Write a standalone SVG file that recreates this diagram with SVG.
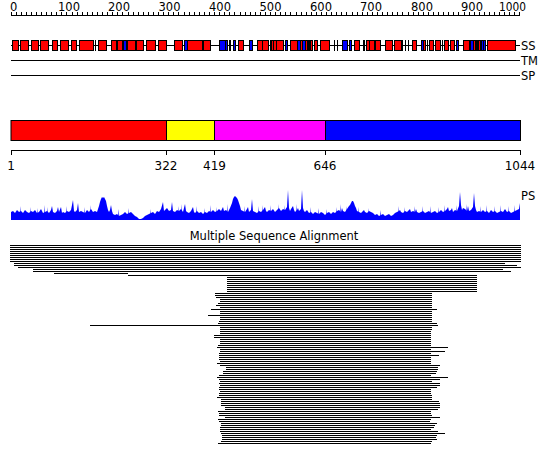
<svg xmlns="http://www.w3.org/2000/svg" width="550" height="465" viewBox="0 0 550 465">
<style>
text{font-family:"DejaVu Sans","Liberation Sans",sans-serif;fill:#000}
.rl{font-size:11.5px}
.lb{font-size:11.5px}
.dl{font-size:12px;text-anchor:middle}
.ln{stroke:#000;stroke-width:1;fill:none;shape-rendering:crispEdges}
.r{fill:#f00;stroke:#000;stroke-width:1;shape-rendering:crispEdges}
.b{fill:#00f;stroke:#000;stroke-width:1;shape-rendering:crispEdges}
.k{fill:#000}
</style>
<rect width="550" height="465" fill="#fff"/>
<g id="ruler">
<path class="ln" d="M11 15.5H520M11.5 12V15M16.5 12V15M21.5 12V15M26.5 12V15M31.5 12V15M36.5 12V15M41.5 12V15M46.5 12V15M51.5 12V15M56.5 12V15M61.5 12V15M66.5 12V15M72.5 12V15M77.5 12V15M82.5 12V15M87.5 12V15M92.5 12V15M97.5 12V15M102.5 12V15M107.5 12V15M112.5 12V15M117.5 12V15M122.5 12V15M128.5 12V15M133.5 12V15M138.5 12V15M143.5 12V15M148.5 12V15M153.5 12V15M158.5 12V15M163.5 12V15M168.5 12V15M173.5 12V15M178.5 12V15M184.5 12V15M189.5 12V15M194.5 12V15M199.5 12V15M204.5 12V15M209.5 12V15M214.5 12V15M219.5 12V15M224.5 12V15M229.5 12V15M234.5 12V15M240.5 12V15M245.5 12V15M250.5 12V15M255.5 12V15M260.5 12V15M265.5 12V15M270.5 12V15M275.5 12V15M280.5 12V15M285.5 12V15M290.5 12V15M296.5 12V15M301.5 12V15M306.5 12V15M311.5 12V15M316.5 12V15M321.5 12V15M326.5 12V15M331.5 12V15M336.5 12V15M341.5 12V15M346.5 12V15M352.5 12V15M357.5 12V15M362.5 12V15M367.5 12V15M372.5 12V15M377.5 12V15M382.5 12V15M387.5 12V15M392.5 12V15M397.5 12V15M402.5 12V15M408.5 12V15M413.5 12V15M418.5 12V15M423.5 12V15M428.5 12V15M433.5 12V15M438.5 12V15M443.5 12V15M448.5 12V15M453.5 12V15M458.5 12V15M464.5 12V15M469.5 12V15M474.5 12V15M479.5 12V15M484.5 12V15M489.5 12V15M494.5 12V15M499.5 12V15M504.5 12V15M509.5 12V15M514.5 12V15M519.5 12V15"/>
<text class="rl" x="10" y="11">0</text>
<text class="rl" x="58" y="11">100</text>
<text class="rl" x="108" y="11">200</text>
<text class="rl" x="158.5" y="11">300</text>
<text class="rl" x="209" y="11">400</text>
<text class="rl" x="259.5" y="11">500</text>
<text class="rl" x="310" y="11">600</text>
<text class="rl" x="360" y="11">700</text>
<text class="rl" x="411" y="11">800</text>
<text class="rl" x="461" y="11">900</text>
<text class="rl" x="499" y="11" textLength="27" lengthAdjust="spacingAndGlyphs">1000</text>
</g>
<g id="connectors">
<path class="ln" d="M11 45.5H520M11 60.5H520M11 75.5H520"/>
</g>
<g id="track-SS">
<rect class="r" x="12.5" y="40.5" width="6" height="10"/>
<rect class="r" x="20.5" y="40.5" width="8" height="10"/>
<rect class="r" x="31.5" y="40.5" width="7" height="10"/>
<rect class="r" x="40.5" y="40.5" width="8" height="10"/>
<rect class="r" x="52.5" y="40.5" width="5" height="10"/>
<rect class="r" x="60.5" y="40.5" width="7.5" height="10"/>
<rect class="r" x="71.5" y="40.5" width="5" height="10"/>
<rect class="r" x="79.5" y="40.5" width="14" height="10"/>
<rect class="k" x="95" y="40" width="1" height="11"/>
<rect class="r" x="98.5" y="40.5" width="8" height="10"/>
<rect class="r" x="111.5" y="40.5" width="4.5" height="10"/>
<rect class="r" x="117.5" y="40.5" width="5" height="10"/>
<rect class="b" x="123.5" y="40.5" width="3" height="10"/>
<rect class="r" x="127.5" y="40.5" width="8" height="10"/>
<rect class="r" x="136.5" y="40.5" width="6.5" height="10"/>
<rect class="r" x="146.5" y="40.5" width="8.5" height="10"/>
<rect class="r" x="158.5" y="40.5" width="7.5" height="10"/>
<rect class="r" x="174.5" y="40.5" width="7.5" height="10"/>
<rect class="b" x="184.5" y="40.5" width="2.5" height="10"/>
<rect class="r" x="187.5" y="40.5" width="14.5" height="10"/>
<rect class="r" x="203.5" y="40.5" width="6.5" height="10"/>
<rect class="b" x="219.5" y="40.5" width="5.5" height="10"/>
<rect class="b" x="225.5" y="40.5" width="1.5" height="10"/>
<rect class="b" x="229" y="40.5" width="1.5" height="10"/>
<rect class="b" x="233.5" y="40.5" width="1.5" height="10"/>
<rect class="r" x="238.5" y="40.5" width="4.5" height="10"/>
<rect class="b" x="249.5" y="40.5" width="2.5" height="10"/>
<rect class="r" x="257.5" y="40.5" width="5" height="10"/>
<rect class="r" x="262.5" y="40.5" width="6" height="10"/>
<rect class="r" x="270" y="40.5" width="6" height="10"/>
<rect class="k" x="271" y="40" width="1" height="11"/>
<rect class="k" x="273" y="40" width="1" height="11"/>
<rect class="r" x="276.5" y="40.5" width="6.5" height="10"/>
<rect class="b" x="285.5" y="40.5" width="1.5" height="10"/>
<rect class="r" x="290.5" y="40.5" width="7" height="10"/>
<rect class="b" x="297.5" y="40.5" width="2.5" height="10"/>
<rect class="r" x="300" y="40.5" width="2.5" height="10"/>
<rect class="b" x="302.5" y="40.5" width="2.5" height="10"/>
<rect class="r" x="305" y="40.5" width="2.5" height="10"/>
<rect class="b" x="308" y="40.5" width="1.5" height="10"/>
<rect class="r" x="310" y="40.5" width="2" height="10"/>
<rect class="r" x="314" y="40.5" width="3" height="10"/>
<rect class="r" x="320" y="40.5" width="9.5" height="10"/>
<rect class="k" x="334" y="40" width="1" height="11"/>
<rect class="k" x="337" y="40" width="1" height="11"/>
<rect class="b" x="342.5" y="40.5" width="4.5" height="10"/>
<rect class="b" x="349.5" y="40.5" width="1.5" height="10"/>
<rect class="r" x="354.5" y="40.5" width="4.5" height="10"/>
<rect class="b" x="363" y="40.5" width="1.5" height="10"/>
<rect class="r" x="366.5" y="40.5" width="2.5" height="10"/>
<rect class="r" x="369.5" y="40.5" width="4.5" height="10"/>
<rect class="r" x="375.5" y="40.5" width="5" height="10"/>
<rect class="r" x="385" y="40.5" width="7.5" height="10"/>
<rect class="r" x="394.5" y="40.5" width="6.5" height="10"/>
<rect class="b" x="401" y="40.5" width="1.5" height="10"/>
<rect class="k" x="405" y="40" width="1" height="11"/>
<rect class="k" x="408" y="40" width="1" height="11"/>
<rect class="r" x="412" y="40.5" width="4.5" height="10"/>
<rect class="b" x="421.5" y="40.5" width="1.5" height="10"/>
<rect class="r" x="423.5" y="40.5" width="2" height="10"/>
<rect class="k" x="427" y="40" width="1" height="11"/>
<rect class="r" x="429.5" y="40.5" width="3.5" height="10"/>
<rect class="r" x="435.5" y="40.5" width="4.5" height="10"/>
<rect class="k" x="442" y="40" width="1" height="11"/>
<rect class="r" x="444.5" y="40.5" width="3.5" height="10"/>
<rect class="r" x="450" y="40.5" width="4.5" height="10"/>
<rect class="b" x="456.5" y="40.5" width="1.5" height="10"/>
<rect class="r" x="463" y="40.5" width="6" height="10"/>
<rect class="b" x="470.5" y="40.5" width="2.5" height="10"/>
<rect class="r" x="473.5" y="40.5" width="2" height="10"/>
<rect class="b" x="476" y="40.5" width="1.5" height="10"/>
<rect class="r" x="478" y="40.5" width="2.5" height="10"/>
<rect class="b" x="481" y="40.5" width="2" height="10"/>
<rect class="b" x="483.5" y="40.5" width="1.5" height="10"/>
<rect class="r" x="487.5" y="40.5" width="27.5" height="10"/>
<text class="lb" x="521" y="49.5">SS</text>
</g>
<g id="track-TM"><text class="lb" x="521" y="65">TM</text></g>
<g id="track-SP"><text class="lb" x="521" y="80">SP</text></g>
<g id="domains">
<rect x="11" y="120.5" width="155.5" height="20" fill="#f00" stroke="#000"/>
<rect x="166.5" y="120.5" width="48" height="20" fill="#ff0" stroke="#000"/>
<rect x="214.5" y="120.5" width="111" height="20" fill="#f0f" stroke="#000"/>
<rect x="325.5" y="120.5" width="195" height="20" fill="#00f" stroke="#000"/>
<path class="ln" d="M11 150.5H521M11.5 150V155M166.5 150V155M214.5 150V155M325.5 150V155M520.5 150V155"/>
<text class="dl" x="11" y="170">1</text>
<text class="dl" x="166" y="170">322</text>
<text class="dl" x="214.5" y="170">419</text>
<text class="dl" x="325" y="170">646</text>
<text class="dl" x="520" y="170">1044</text>
</g>
<g id="track-PS">
<polygon fill="#00f" points="11,220 11,212 13,211 15,213 17,210 19,212 21,211 23,213 25,210 27,212 29,213 31,211 33,212 35,210 37,213 39,212 41,209 43,213 45,212 47,211 49,213 51,210 52,206 53,212 55,213 57,211 58,207 59,212 61,207 62,213 63,212 65,213 67,211 69,212 71,210 73,200 74,211 75,212 77,210 78,203 79,212 81,211 83,212 85,213 87,210 89,212 91,209 93,212 95,211 97,212 99,206 100,202 101,199 102,197 103,198 104,197 105,199 106,201 107,206 108,210 109,212 110,210 111,205 112,211 113,214 115,215 117,214 119,216 121,215 123,214 125,212 127,214 129,213 131,212 133,214 135,216 137,217 139,219 141,219 143,218 145,216 147,215 149,214 151,213 153,212 155,214 157,211 159,212 161,209 163,202 164,211 165,210 167,208 169,211 171,210 172,202 173,211 175,212 177,210 179,211 181,209 183,212 185,204 186,211 187,212 189,213 191,211 193,207 194,212 195,213 197,211 199,213 201,212 203,214 205,212 207,213 209,211 211,212 213,210 215,212 217,211 219,209 221,211 223,207 224,211 226,210 228,212 230,208 232,203 233,199 234,197 235,196 236,197 237,198 238,200 239,203 240,206 241,210 243,211 245,212 247,209 248,207 249,212 251,210 252,199 253,211 255,212 257,213 259,211 261,212 263,210 265,207 266,211 267,212 269,210 271,211 273,209 275,212 277,210 279,208 281,211 283,209 285,210 287,207 288,190 289,208 290,211 291,209 293,206 294,210 295,212 297,210 298,208 299,211 301,209 302,190 303,208 304,211 305,212 307,210 309,213 311,212 313,214 315,212 317,213 319,214 321,212 323,213 325,215 327,213 329,212 331,214 333,212 335,213 337,211 339,210 341,212 342,208 343,211 345,212 347,209 349,206 350,205 351,203 352,201 353,201 354,203 355,206 356,208 357,211 359,212 361,213 363,211 364,210 365,212 367,213 369,211 371,212 373,213 375,215 377,214 379,216 381,215 383,214 385,216 387,215 389,214 391,216 393,215 395,213 397,212 399,211 400,210 401,212 403,213 405,211 407,212 409,210 410,209 411,212 413,211 415,212 416,209 417,212 419,213 421,212 423,211 425,213 427,212 429,211 431,213 433,212 435,211 437,213 439,212 441,210 443,212 445,211 447,209 448,207 449,211 451,210 452,208 453,212 455,210 457,211 459,206 460,192 461,205 462,210 463,208 465,209 467,211 468,206 469,211 471,210 473,207 474,193 475,206 476,210 477,212 479,211 481,212 483,210 485,212 487,211 489,213 491,210 493,212 495,211 497,213 499,212 501,211 503,212 505,209 507,212 509,211 511,213 513,212 515,211 517,210 519,209 520,203 520,220"/>
<path fill="#00f" d="M20 220L20.7 206L21.5 220ZM30 220L30.7 207L31.5 220ZM37 220L37.7 208L38.5 220ZM44 220L44.7 205L45.5 220ZM47 220L47.7 207L48.5 220ZM66 220L66.7 206L67.5 220ZM84 220L84.7 207L85.5 220ZM90 220L90.7 205L91.5 220ZM118 220L118.7 209L119.5 220ZM128 220L128.7 208L129.5 220ZM150 220L150.7 209L151.5 220ZM178 220L178.7 206L179.5 220ZM181 220L181.7 204L182.5 220ZM196 220L196.7 206L197.5 220ZM204 220L204.7 208L205.5 220ZM210 220L210.7 205L211.5 220ZM216 220L216.7 207L217.5 220ZM227 220L227.7 204L228.5 220ZM244 220L244.7 206L245.5 220ZM258 220L258.7 206L259.5 220ZM262 220L262.7 205L263.5 220ZM270 220L270.7 205L271.5 220ZM278 220L278.7 204L279.5 220ZM284 220L284.7 205L285.5 220ZM296 220L296.7 204L297.5 220ZM310 220L310.7 207L311.5 220ZM318 220L318.7 208L319.5 220ZM326 220L326.7 209L327.5 220ZM336 220L336.7 207L337.5 220ZM340 220L340.7 204L341.5 220ZM346 220L346.7 206L347.5 220ZM358 220L358.7 207L359.5 220ZM368 220L368.7 208L369.5 220ZM380 220L380.7 210L381.5 220ZM398 220L398.7 206L399.5 220ZM404 220L404.7 207L405.5 220ZM414 220L414.7 206L415.5 220ZM422 220L422.7 206L423.5 220ZM430 220L430.7 206L431.5 220ZM438 220L438.7 207L439.5 220ZM444 220L444.7 205L445.5 220ZM456 220L456.7 205L457.5 220ZM466 220L466.7 204L467.5 220ZM480 220L480.7 206L481.5 220ZM486 220L486.7 205L487.5 220ZM494 220L494.7 206L495.5 220ZM500 220L500.7 205L501.5 220ZM508 220L508.7 206L509.5 220ZM514 220L514.7 205L515.5 220Z"/>
<text class="lb" x="521" y="200">PS</text>
</g>
<g id="msa">
<text class="lb" x="274" y="240" text-anchor="middle">Multiple Sequence Alignment</text>
<path class="ln" d="M10 245.5H521M10 247.5H521M10 249.5H521M10 251.5H521M10 253.5H521M10 255.5H521M10 257.5H521M10 259.5H521M10 261.5H521M14 263.5H505M14 265.5H517M18 267.5H521M33 269.5H503M33 271.5H511M54 273.5H128M128 275.5H477M227 277.5H477M227 279.5H477M227 281.5H477M227 283.5H477M227 285.5H477M227 287.5H477M227 289.5H477M227 291.5H477M215 293.5H432M215 295.5H432M216 297.5H432M220 299.5H432M220 301.5H432M218 303.5H432M216 305.5H432M220 307.5H432M211 309.5H437M220 311.5H432M220 313.5H432M208 315.5H432M220 317.5H432M220 319.5H432M219 321.5H432M218 323.5H437M90 325.5H438M220 327.5H432M220 329.5H432M220 331.5H431M220 333.5H431M214 335.5H431M214 337.5H431M220 339.5H431M220 341.5H431M220 343.5H431M218 345.5H431M217 347.5H448M220 349.5H431M220 351.5H445M219 353.5H431M219 355.5H439M219 357.5H431M219 359.5H431M220 361.5H431M217 363.5H431M220 365.5H440M226 367.5H438M226 369.5H438M223 371.5H437M223 373.5H436M219 375.5H431M217 377.5H448M219 379.5H440M220 381.5H432M219 383.5H440M220 385.5H440M219 387.5H437M219 389.5H431M220 391.5H431M219 393.5H431M219 395.5H432M217 397.5H432M221 399.5H432M221 401.5H439M221 403.5H440M221 405.5H440M225 407.5H440M225 409.5H438M218 411.5H431M219 413.5H431M219 415.5H432M225 417.5H440M218 419.5H431M219 421.5H430M221 423.5H437M221 425.5H435M220 427.5H434M220 429.5H431M220 431.5H438M221 433.5H445M222 435.5H437M222 437.5H436M222 439.5H437M221 441.5H432M218 443.5H431"/>
</g>
</svg>
